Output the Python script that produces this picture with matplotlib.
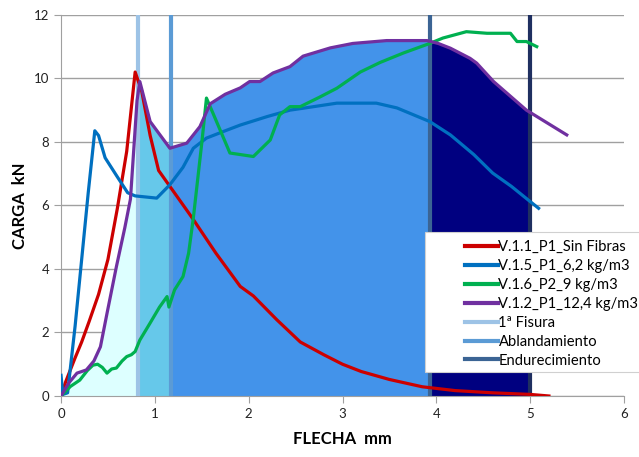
import numpy as np
import matplotlib.pyplot as plt
from matplotlib.patches import Rectangle

plt.rcParams['font.family'] = ['Lato', 'DejaVu Sans']

# V.1.1_P1_Sin Fibras
red_x = [0.0, 0.05, 0.15, 0.22, 0.30, 0.40, 0.50, 0.60, 0.70, 0.79, 0.86, 0.95, 1.04, 1.16,
         1.40, 1.65, 1.91, 2.05, 2.30, 2.55, 2.80, 3.00, 3.20, 3.50, 3.85, 4.20, 4.60, 5.00, 5.20]
red_y = [0.0, 0.45, 1.2, 1.7, 2.35, 3.2, 4.3, 5.9, 7.7, 10.2, 9.6, 8.2, 7.1, 6.6,
         5.6, 4.5, 3.45, 3.15, 2.4, 1.7, 1.3, 1.0, 0.77, 0.52, 0.29, 0.17, 0.1, 0.05, 0.0]

# V.1.5_P1_6,2 kg/m3
blue_x = [0.0, 0.02, 0.07, 0.15, 0.22, 0.29, 0.36, 0.40, 0.47, 0.60, 0.71, 0.79, 1.02, 1.16,
          1.30, 1.41, 1.55, 1.75, 1.91, 2.20, 2.44, 2.58, 2.94, 3.36, 3.58, 3.93, 4.15,
          4.40, 4.60, 4.80, 4.98, 5.09]
blue_y = [0.65, 0.05, 0.1, 2.2, 4.3, 6.4, 8.35, 8.2, 7.5, 6.9, 6.4, 6.3, 6.23, 6.65,
          7.2, 7.8, 8.12, 8.35, 8.53, 8.8, 9.0, 9.06, 9.22, 9.22, 9.07, 8.64, 8.22,
          7.6, 7.02, 6.6, 6.17, 5.91]

# V.1.6_P2_9 kg/m3
green_x = [0.0, 0.10, 0.20, 0.28, 0.34, 0.39, 0.44, 0.49, 0.54, 0.59, 0.65, 0.70, 0.75, 0.79,
           0.84, 0.95, 1.05, 1.13, 1.15, 1.21, 1.30, 1.36, 1.41, 1.50, 1.55, 1.62, 1.80,
           2.05, 2.23, 2.33, 2.44, 2.55, 2.75, 2.94, 3.19, 3.40, 3.65, 3.93, 4.07, 4.32,
           4.54, 4.79, 4.86, 4.96, 5.07]
green_y = [0.0, 0.3, 0.5, 0.8, 0.97, 1.0, 0.9, 0.72, 0.85, 0.88, 1.1, 1.24, 1.3, 1.4,
           1.76, 2.3, 2.8, 3.13, 2.8, 3.34, 3.76, 4.5, 5.6, 7.96, 9.38, 8.9, 7.65,
           7.54, 8.06, 8.85, 9.11, 9.11, 9.4, 9.69, 10.2, 10.5, 10.8, 11.1, 11.27, 11.47,
           11.42, 11.42, 11.16, 11.16, 11.0]

# V.1.2_P1_12,4 kg/m3
purple_x = [0.0, 0.08, 0.17, 0.27, 0.35, 0.42, 0.49, 0.59, 0.68, 0.74, 0.81, 0.84, 0.95, 1.16,
            1.34, 1.48, 1.59, 1.75, 1.91, 2.01, 2.12, 2.26, 2.44, 2.58, 2.87, 3.11, 3.47,
            3.90, 4.02, 4.15, 4.36, 4.43, 4.61, 4.96, 5.39]
purple_y = [0.0, 0.4, 0.72, 0.82, 1.1, 1.55, 2.6, 4.07, 5.3, 6.2, 9.3, 9.9, 8.64, 7.8,
            7.96, 8.48, 9.2, 9.5, 9.7, 9.9, 9.9, 10.17, 10.37, 10.7, 10.96, 11.1, 11.19,
            11.19, 11.1, 10.95, 10.63, 10.48, 9.9, 9.0, 8.22]

labels = ['V.1.1_P1_Sin Fibras', 'V.1.5_P1_6,2 kg/m3', 'V.1.6_P2_9 kg/m3',
          'V.1.2_P1_12,4 kg/m3', '1ª Fisura', 'Ablandamiento', 'Endurecimiento']

# phase limits on the deflection axis
x_fisura = 0.82
x_ablanda = 1.17
x_endurece = 3.93
x_final = 5.0

fig = plt.figure(figsize=(6.39, 4.57), dpi=100)
ax = fig.add_axes([0.0955, 0.1335, 0.881, 0.834])

# shaded phases under the purple curve
px = np.array(purple_x)
py = np.array(purple_y)
zones = [(0.0, x_fisura, '#ddffff'), (x_fisura, x_ablanda, '#66c8ea'),
         (x_ablanda, x_endurece, '#4393ea'), (x_endurece, x_final, '#000080')]
for a, b, col in zones:
    inner = px[(px > a) & (px < b)]
    xs = np.concatenate([[a], inner, [b]])
    ys = np.interp(xs, px, py)
    ax.fill_between(xs, 0, ys, color=col, lw=0, zorder=1)

lw = 2.3
ax.plot(red_x, red_y, color='#cc0000', lw=lw, zorder=4)
ax.plot(blue_x, blue_y, color='#0070c0', lw=lw, zorder=4)
ax.plot(green_x, green_y, color='#00b050', lw=lw, zorder=4)
ax.plot(purple_x, purple_y, color='#7030a0', lw=lw, zorder=4)

ax.axvline(x_fisura, color='#9dc3e6', lw=3, zorder=3)
ax.axvline(x_ablanda, color='#5b9bd5', lw=3, zorder=3)
ax.axvline(x_endurece, color='#3b6494', lw=3, zorder=3)
ax.axvline(x_final, color='#1f2f60', lw=3, zorder=3)

ax.set_xlim(0, 6)
ax.set_ylim(0, 12)
ax.set_xticks(range(0, 7))
ax.set_yticks(range(0, 13, 2))
ax.yaxis.grid(True, color='#a0a0a0', lw=1)
ax.set_axisbelow(True)
for s in ['top', 'right']:
    ax.spines[s].set_visible(False)
for s in ['left', 'bottom']:
    ax.spines[s].set_color('#a0a0a0')
ax.tick_params(colors='#a0a0a0', labelcolor='#222222', labelsize=9.5, length=5)

ax.set_xlabel('FLECHA  mm', fontsize=12, fontweight='bold', labelpad=8)
ax.set_ylabel('CARGA  kN', fontsize=12, fontweight='bold', labelpad=4)

# legend box, partly cut by the right edge as in the original
fig.patches.append(Rectangle((425 / 639, 1 - 372 / 457), 0.4, 140 / 457,
                             transform=fig.transFigure, facecolor='white',
                             edgecolor='#d0d0d0', lw=0.8, zorder=5))

handle_cols = ['#cc0000', '#0070c0', '#00b050', '#7030a0', '#9dc3e6', '#5b9bd5', '#3b6494']
handles = [plt.Line2D([], [], color=c, lw=3) for c in handle_cols]
leg = fig.legend(handles, labels, loc='upper left', bbox_to_anchor=(458 / 639, 1 - 233 / 457),
                 bbox_transform=fig.transFigure, fontsize=10.6, handlelength=2.2,
                 handletextpad=0.05, labelspacing=0.33, borderpad=0, frameon=False)
leg.set_zorder(6)

fig.savefig('out.png', dpi=100)
